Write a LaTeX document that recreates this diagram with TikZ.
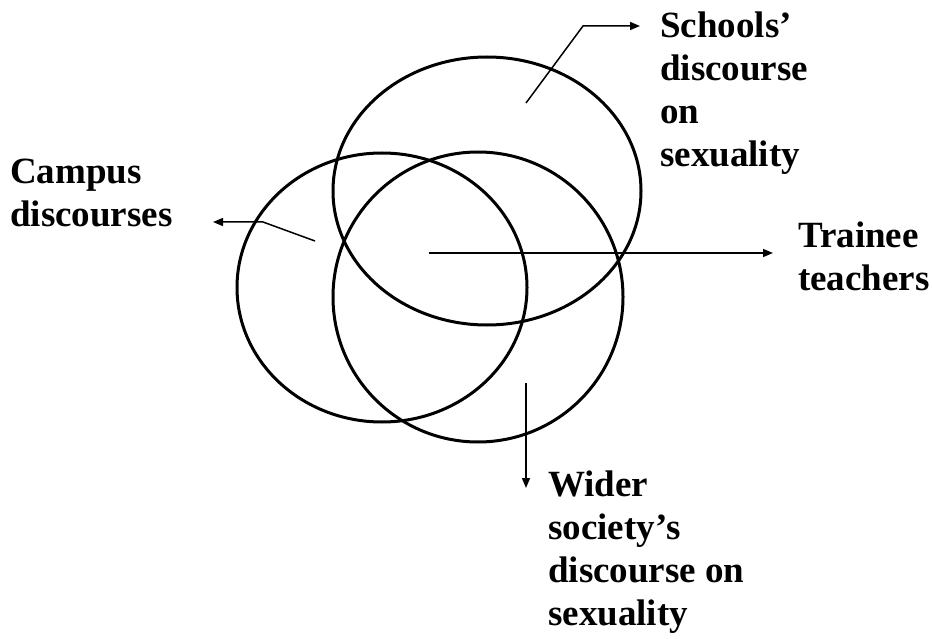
\documentclass[tikz,border=0pt]{standalone}
\usepackage{fontspec}
\setmainfont{Liberation Serif}
\usetikzlibrary{shapes.geometric,arrows.meta}
\tikzset{
  venn/.style={draw, ellipse, line width=3pt, inner sep=0pt},
  lbl/.style={font=\fontsize{37}{43}\selectfont\bfseries, align=left,
    inner sep=0pt, anchor=north west},
  pointer/.style={line width=1.5pt, -{Triangle[length=10pt,width=8pt]}}
}
\begin{document}
\begin{tikzpicture}[x=1pt, y=-1pt]
\useasboundingbox (0,0) rectangle (932,639);
% the three discourses
\node[venn, minimum width=308pt, minimum height=268pt] (schools) at (487,191) {};
\node[venn, minimum width=290pt, minimum height=269pt] (campus) at (382,287.5) {};
\node[venn, minimum width=290pt, minimum height=290pt] (wider) at (478,297) {};
% labels
\node[lbl] (schools-lbl) at (660,12) {Schools'\\discourse\\on\\sexuality};
\node[lbl] (campus-lbl) at (10,159) {Campus\\discourses};
\node[lbl] (trainee-lbl) at (798,222) {Trainee\\teachers};
\node[lbl] (wider-lbl) at (548,471) {Wider\\society's\\discourse on\\sexuality};
% pointers
\coordinate (schools-in) at (526,103);
\coordinate (schools-bend) at (583,26);
\coordinate (schools-tip) at (640,26);
\coordinate (campus-in) at (315,241);
\coordinate (campus-bend) at (263,222);
\coordinate (campus-tip) at (213,222);
\coordinate (trainee-in) at (429,253);
\coordinate (trainee-tip) at (773,253);
\coordinate (wider-in) at (526,383);
\coordinate (wider-tip) at (526,488);
\draw[pointer] (schools-in) -- (schools-bend) -- (schools-tip);
\draw[pointer] (campus-in) -- (campus-bend) -- (campus-tip);
\draw[pointer] (trainee-in) -- (trainee-tip);
\draw[pointer] (wider-in) -- (wider-tip);
\end{tikzpicture}
\end{document}
